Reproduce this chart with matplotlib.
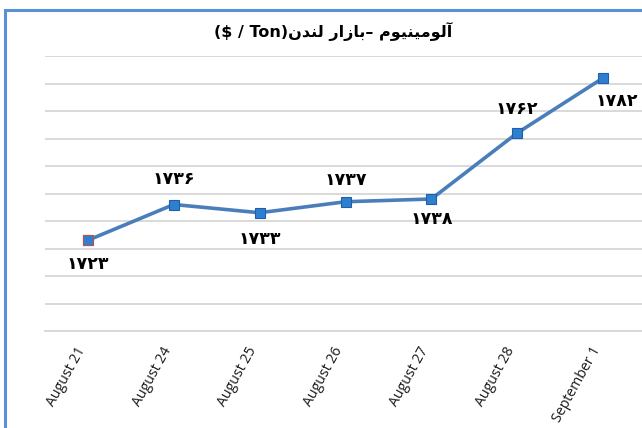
import matplotlib
matplotlib.use('Agg')
import matplotlib.pyplot as plt
from matplotlib.patches import Rectangle
from matplotlib.transforms import ScaledTranslation

# data
dates = ['August 21', 'August 24', 'August 25', 'August 26',
         'August 27', 'August 28', 'September 1']
prices = [1723, 1736, 1733, 1737, 1738, 1762, 1782]
labels = ['\u06f1\u06f7\u06f2\u06f3', '\u06f1\u06f7\u06f3\u06f6', '\u06f1\u06f7\u06f3\u06f3',
          '\u06f1\u06f7\u06f3\u06f7', '\u06f1\u06f7\u06f3\u06f8', '\u06f1\u06f7\u06f6\u06f2',
          '\u06f1\u06f7\u06f8\u06f2']

# label placement (pixels): below/above the point, last one nudged right
label_dy = [-24, 26, -26, 22, -20, 24, -23]
label_dx = [0, 0, 0, 0, 0, 0, 14]

# title already in visual (left-to-right) order with shaped glyphs
london = '\ufee5\ufeaa\ufee8\ufedf'
bazar = '\ufead\ufe8d\ufeaf\ufe8e\ufe91'
aluminium = '\ufee1\ufeee\ufef4\ufee8\ufef4\ufee3\ufeee\ufedf\ufe81'
title = '($ / Ton)' + london + ' ' + bazar + '\u2013 ' + aluminium

fig = plt.figure(figsize=(6.42, 4.28), dpi=100)
ax = fig.add_axes([45/642, 1 - 331/428, 601/642, 275/428])

x = list(range(len(dates)))
ax.plot(x, prices, color='#4A7EBB', lw=2.6, zorder=3)
ax.plot(x, prices, ls='none', marker='s', ms=6.5, mfc='#2F7FD1',
        mec='#1F5FA8', mew=0.8, zorder=4)
ax.plot(x[:1], prices[:1], ls='none', marker='s', ms=6.5, mfc='#2F7FD1',
        mec='#C0504D', mew=0.8, zorder=5)

for i, (v, lab) in enumerate(zip(prices, labels)):
    ax.annotate(lab, (i, v), xytext=(label_dx[i], label_dy[i]),
                textcoords='offset pixels', ha='center', va='center',
                fontsize=12.5, fontweight='bold', family='DejaVu Sans',
                color='black')

ax.set_xlim(-0.5, len(dates) - 0.5)
ax.set_ylim(1690, 1790)
ax.set_yticks(range(1690, 1791, 10))
ax.yaxis.grid(True, color='#D9D9D9', lw=1.4)
ax.set_axisbelow(True)
ax.tick_params(axis='y', left=False, labelleft=False)
ax.tick_params(axis='x', length=0, pad=10)
ax.set_xticks(x)
ax.set_xticklabels(dates, rotation=61, ha='right', va='center',
                   rotation_mode='anchor', fontsize=10.2,
                   family='Open Sans', color='#1a1a1a')
shift = ScaledTranslation(-6/100, -3/100, fig.dpi_scale_trans)
for t in ax.get_xticklabels():
    t.set_transform(t.get_transform() + shift)
for s in ['left', 'right', 'top']:
    ax.spines[s].set_visible(False)
ax.spines['bottom'].set_color('#D9D9D9')
ax.spines['bottom'].set_linewidth(1.4)

fig.text(333/642, 1 - 31/428, title, ha='center', va='center',
         fontsize=11.5, fontweight='bold', family='DejaVu Sans')

fig.patches.append(Rectangle((5/642, -0.2), 1.2, 1 - 10/428 + 0.2,
                             transform=fig.transFigure, fill=False,
                             ec='#5B8FD6', lw=2.2))

fig.savefig('out.png', dpi=100)
